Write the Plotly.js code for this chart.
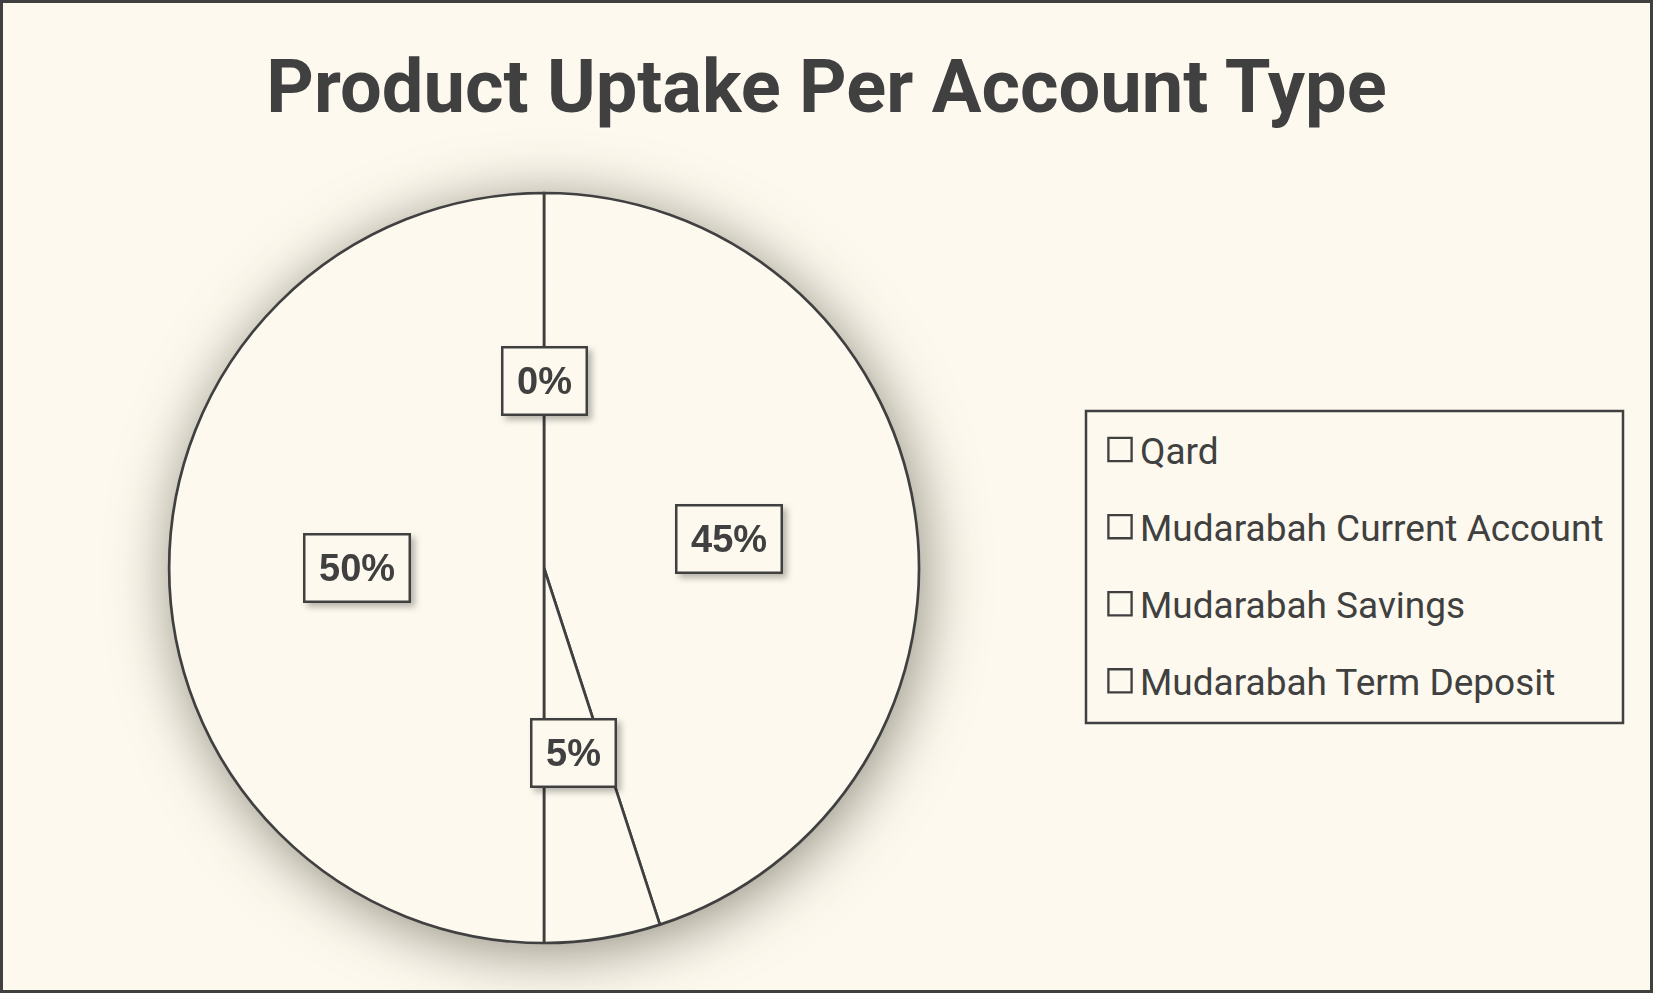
<!DOCTYPE html>
<html>
<head>
<meta charset="utf-8">
<script src="https://cdn.plot.ly/plotly-3.0.1.min.js"></script>
<style>
  html, body { margin: 0; padding: 0; background: #FDF9EE; }
  #chart { width: 1653px; height: 993px; }
  #chart .pielayer .trace { filter: drop-shadow(4px 8px 30px rgba(40,35,20,0.5)); }
  #chart g.annotation { filter: drop-shadow(4px 4px 3px rgba(0,0,0,0.28)); }
  #chart .legend .legendpoints path { transform: translate(20px, 0px) scale(1.45); }
</style>
</head>
<body>
<div id="chart"></div>
<script>
// ---- data ----
const categories = ["Qard", "Mudarabah Current Account", "Mudarabah Savings", "Mudarabah Term Deposit"];
const values = [0, 45, 5, 50];
const percentLabels = ["0%", "45%", "5%", "50%"];
const chartTitle = "Product Uptake Per Account Type";

// ---- layout constants ----
const W = 1653, H = 993;
const BG = "#FDF9EE", INK = "#404040";
const CX = 544, CY = 568, R = 375;

const total = values.reduce((a, b) => a + b, 0);

const pie = {
  type: "pie",
  labels: categories,
  values: values,
  sort: false,
  direction: "clockwise",
  rotation: 0,
  textinfo: "none",
  hoverinfo: "none",
  showlegend: false,
  marker: { colors: categories.map(() => BG), line: { color: INK, width: 2.7 } },
  domain: { x: [(CX - R) / W, (CX + R) / W], y: [1 - (CY + R) / H, 1 - (CY - R) / H] }
};

// legend entries (one per category)
const legendTraces = categories.map((c, i) => ({
  type: "scatter",
  mode: "markers",
  x: [null], y: [null],
  name: c,
  legendgroup: "g" + i,
  hoverinfo: "none",
  marker: { symbol: "square-open", size: 16, color: INK, line: { color: INK, width: 1.6 } }
}));

// data labels at half radius on the middle angle of each slice
const annotations = [];
let cum = 0;
values.forEach((v, i) => {
  const th = 2 * Math.PI * (cum + v / 2) / total;
  cum += v;
  const px = CX + 0.5 * R * Math.sin(th);
  const py = CY - 0.5 * R * Math.cos(th);
  annotations.push({
    xref: "paper", yref: "paper",
    x: px / W, y: 1 - py / H,
    xanchor: "center", yanchor: "middle",
    showarrow: false,
    text: "<b>" + percentLabels[i] + "</b>",
    font: { family: "Liberation Sans, Arial, sans-serif", size: 38, color: INK },
    bgcolor: BG,
    bordercolor: INK,
    borderwidth: 2.5,
    borderpad: 13.5,
    height: 38
  });
});

const layout = {
  width: W, height: H,
  margin: { l: 0, r: 0, t: 0, b: 0 },
  paper_bgcolor: BG,
  plot_bgcolor: BG,
  title: {
    text: "<b>" + chartTitle + "</b>",
    font: { family: "Roboto, Liberation Sans, sans-serif", size: 74, color: INK },
    x: 0.5, xanchor: "center",
    y: 1 - 86 / H, yref: "container", yanchor: "middle"
  },
  xaxis: { visible: false, range: [0, 1], fixedrange: true },
  yaxis: { visible: false, range: [0, 1], fixedrange: true },
  showlegend: true,
  legend: {
    x: 1100 / W, y: 1 - 419 / H,
    xanchor: "left", yanchor: "top",
    borderwidth: 0,
    bgcolor: "rgba(0,0,0,0)",
    font: { family: "Roboto, Noto Sans, sans-serif", size: 37, color: INK },
    traceorder: "grouped",
    tracegroupgap: 26,
    itemclick: false, itemdoubleclick: false
  },
  annotations: annotations,
  shapes: [
    {
      type: "rect", xref: "paper", yref: "paper",
      x0: 1.5 / W, x1: 1 - 1.5 / W, y0: 1.5 / H, y1: 1 - 1.5 / H,
      line: { color: INK, width: 3 }, fillcolor: "rgba(0,0,0,0)", layer: "above"
    },
    {
      type: "rect", xref: "paper", yref: "paper",
      x0: 1086 / W, x1: 1623 / W, y0: 1 - 723 / H, y1: 1 - 411 / H,
      line: { color: INK, width: 2.5 }, fillcolor: "rgba(0,0,0,0)", layer: "above"
    }
  ],
  hovermode: false
};

Plotly.newPlot("chart", [pie].concat(legendTraces), layout, { displayModeBar: false, staticPlot: true });
</script>
</body>
</html>
